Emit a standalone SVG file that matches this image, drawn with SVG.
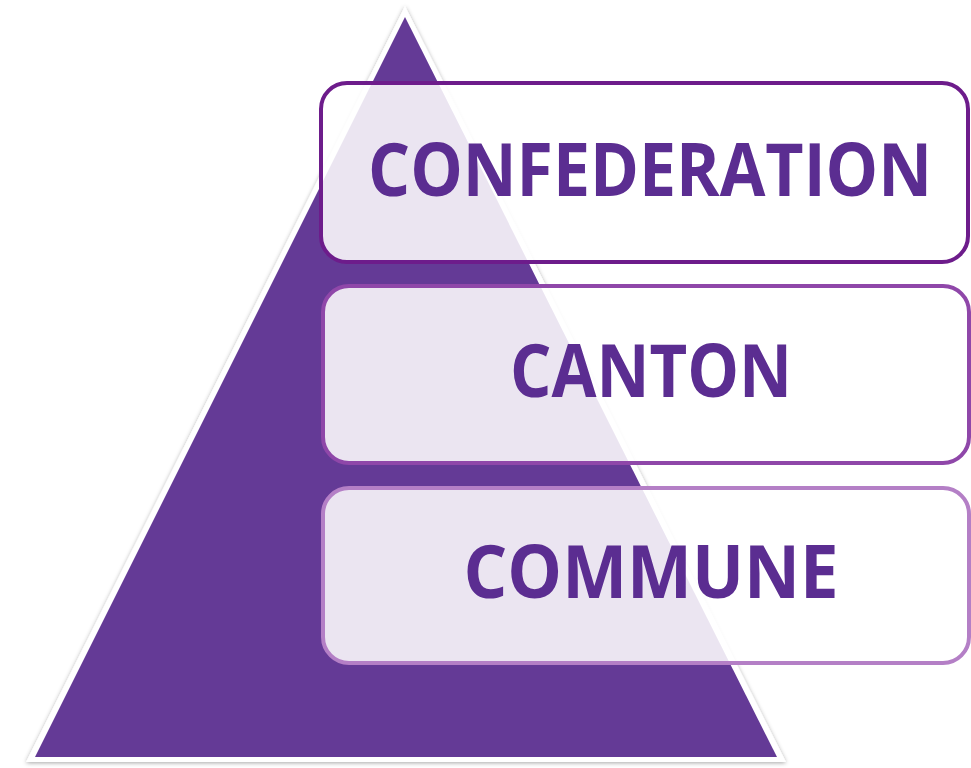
<svg xmlns="http://www.w3.org/2000/svg" width="971" height="768" viewBox="0 0 971 768">
<defs>
<filter id="sh" x="-10%" y="-10%" width="120%" height="120%">
<feGaussianBlur in="SourceAlpha" stdDeviation="2"/>
<feOffset dx="0" dy="1" result="b"/>
<feFlood flood-color="#000" flood-opacity="0.35"/>
<feComposite in2="b" operator="in"/>
<feMerge><feMergeNode/><feMergeNode in="SourceGraphic"/></feMerge>
</filter>
<style>
.lbl{font-family:"Open Sans","Liberation Sans",sans-serif;font-weight:bold;font-size:74px;fill:#5b2d91;text-anchor:middle}
.box{fill:#ffffff;fill-opacity:0.87;stroke-width:4}
</style>
</defs>
<rect width="971" height="768" fill="#ffffff"/>
<g id="pyramid">
<polygon points="405,6 26,762 786,762" fill="#ffffff" filter="url(#sh)"/>
<polygon points="405,17 35,757 777,757" fill="#643a96"/>
</g>
<g id="confederation">
<rect class="box" x="321" y="83" width="647" height="179" rx="26" stroke="#6d1c8b"/>
<text class="lbl" x="650" y="196" textLength="564" lengthAdjust="spacingAndGlyphs">CONFEDERATION</text>
</g>
<g id="canton">
<rect class="box" x="323" y="286" width="646" height="177" rx="26" stroke="#8f47a9"/>
<text class="lbl" x="651" y="397" textLength="282" lengthAdjust="spacingAndGlyphs">CANTON</text>
</g>
<g id="commune">
<rect class="box" x="323" y="488" width="646" height="175" rx="26" stroke="#b47fc6"/>
<text class="lbl" x="651" y="598" textLength="375" lengthAdjust="spacingAndGlyphs">COMMUNE</text>
</g>
<g id="connectors"/>
</svg>
